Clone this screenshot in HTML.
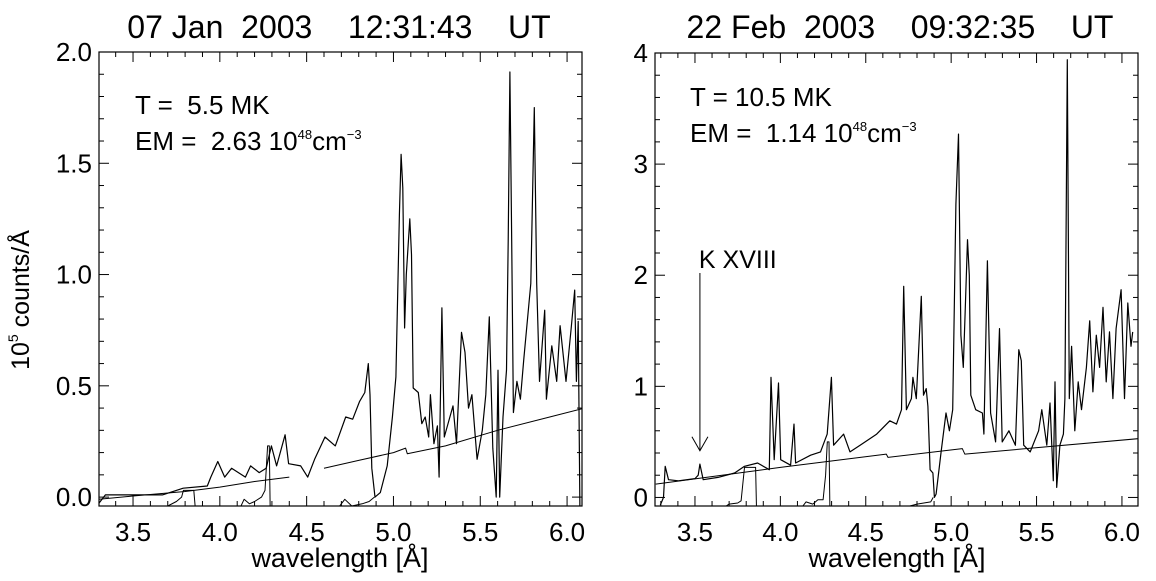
<!DOCTYPE html>
<html><head><meta charset="utf-8">
<style>
body{margin:0;background:#fff;width:1156px;height:581px;overflow:hidden}
svg{display:block}
text{font-family:"Liberation Sans",sans-serif;fill:#000}
</style></head>
<body>
<svg id="chart" width="1156" height="581" viewBox="0 0 1156 581" xmlns="http://www.w3.org/2000/svg">
<defs>
<clipPath id="clipL"><rect x="99" y="52" width="483" height="454"/></clipPath>
<clipPath id="clipR"><rect x="655" y="53" width="483" height="453"/></clipPath>
</defs>
<text x="339" y="38" font-size="32" text-anchor="middle" xml:space="preserve">07 Jan  2003    12:31:43    UT</text>
<text x="900" y="38" font-size="32" text-anchor="middle" xml:space="preserve">22 Feb  2003    09:32:35    UT</text>
<text transform="translate(29,300) rotate(-90)" font-size="25" text-anchor="middle">10<tspan font-size="14" dy="-11">5</tspan><tspan dy="11"> counts/Å</tspan></text>
<text x="340" y="567" font-size="27" text-anchor="middle">wavelength [Å]</text>
<text x="897" y="567" font-size="27" text-anchor="middle">wavelength [Å]</text>
<text x="135" y="114" font-size="26" xml:space="preserve">T =  5.5 MK</text>
<text x="135" y="150" font-size="26" xml:space="preserve">EM =  2.63 10<tspan font-size="13" dy="-11">48</tspan><tspan dy="11">cm</tspan><tspan font-size="13" dy="-11">−3</tspan></text>
<text x="690" y="106" font-size="26" xml:space="preserve">T = 10.5 MK</text>
<text x="690" y="142" font-size="26" xml:space="preserve">EM =  1.14 10<tspan font-size="13" dy="-11">48</tspan><tspan dy="11">cm</tspan><tspan font-size="13" dy="-11">−3</tspan></text>
<g id="gL"></g><g id="gR"></g>
</svg>
<script>
// ---- Left panel data (07 Jan 2003) ----
const leftObsW = [3.301,3.341,3.50,3.669,3.789,3.928,3.948,3.988,4.028,4.068,4.147,4.177,4.227,4.267,4.297,4.327,4.376,4.396,4.466,4.506,4.546,4.606,4.665,4.725,4.765,4.805,4.835,4.855,4.865,4.875,4.894,4.924,4.964,4.994,5.014,5.034,5.044,5.054,5.064,5.074,5.094,5.104,5.114,5.143,5.163,5.183,5.203,5.213,5.233,5.253,5.263,5.279,5.293,5.343,5.363,5.392,5.412,5.432,5.452,5.482,5.512,5.532,5.552,5.572,5.592,5.602,5.612,5.631,5.651,5.661,5.671,5.681,5.691,5.711,5.731,5.751,5.791,5.811,5.825,5.841,5.871,5.881,5.912,5.940,5.960,5.994,6.024,6.044,6.054,6.064,6.074];
const leftObsV = [-0.03,0.01,0.01,0.01,0.04,0.05,0.09,0.16,0.09,0.13,0.09,0.14,0.11,0.13,0.23,0.14,0.28,0.15,0.14,0.09,0.17,0.27,0.23,0.36,0.35,0.43,0.47,0.60,0.46,0.13,0.0,0.02,0.14,0.36,0.54,1.27,1.54,1.39,0.76,1.0,1.25,1.09,0.49,0.47,0.33,0.36,0.27,0.46,0.24,0.32,0.09,0.85,0.27,0.41,0.24,0.74,0.65,0.40,0.46,0.17,0.30,0.46,0.81,0.22,0.0,0.57,0.0,0.36,0.57,1.15,1.91,1.15,0.38,0.52,0.44,0.62,0.96,1.75,0.96,0.52,0.84,0.44,0.68,0.52,0.77,0.52,0.76,0.93,0.52,0.79,-0.05];
const leftBg1W = [3.30,3.5,3.8,4.0,4.2,4.4];
const leftBg1V = [-0.01,0.005,0.025,0.045,0.07,0.09];
const leftBg2W = [4.6,4.8,5.0,5.07,5.08,5.3,5.6,5.9,6.1];
const leftBg2V = [0.13,0.165,0.2,0.22,0.195,0.23,0.30,0.36,0.40];
const leftLowW = [3.62,3.70,3.75,3.78,3.79,3.85,3.86,4.11,4.14,4.17,4.20,4.24,4.26,4.275,4.285,4.29,4.67,4.72,4.76,4.82,4.86,4.89];
const leftLowV = [-0.06,-0.04,-0.02,0.0,0.03,0.03,-0.06,-0.06,-0.01,-0.03,-0.02,0.0,0.03,0.23,0.23,-0.06,-0.06,-0.01,-0.04,-0.03,-0.02,0.0];
const leftXTicks = ["3.5","4.0","4.5","5.0","5.5","6.0"];
const leftYTicks = ["0.0","0.5","1.0","1.5","2.0"];

// ---- Right panel data (22 Feb 2003) ----
const rightObsW = [3.297,3.316,3.326,3.345,3.403,3.50,3.519,3.529,3.548,3.635,3.732,3.79,3.867,3.935,3.945,3.964,3.989,4.002,4.060,4.08,4.089,4.177,4.235,4.274,4.299,4.312,4.37,4.408,4.467,4.564,4.641,4.680,4.709,4.722,4.738,4.767,4.776,4.796,4.825,4.838,4.854,4.864,4.877,4.893,4.902,4.912,4.941,4.97,4.99,5.009,5.028,5.043,5.057,5.071,5.082,5.096,5.106,5.115,5.144,5.183,5.192,5.212,5.231,5.260,5.283,5.299,5.338,5.376,5.396,5.411,5.425,5.463,5.512,5.531,5.560,5.579,5.598,5.608,5.618,5.637,5.657,5.666,5.680,5.692,5.705,5.724,5.744,5.763,5.792,5.811,5.83,5.85,5.869,5.889,5.908,5.927,5.947,5.966,5.995,6.015,6.034,6.053,6.063];
const rightObsV = [-0.07,0.0,0.28,0.16,0.15,0.17,0.20,0.30,0.16,0.18,0.22,0.28,0.31,0.25,1.08,0.34,1.03,0.34,0.29,0.66,0.31,0.38,0.41,0.57,1.08,0.47,0.57,0.41,0.47,0.57,0.69,0.66,0.79,1.90,0.79,0.89,1.08,0.89,1.81,0.92,0.98,0.82,0.25,0.22,0.0,0.03,0.41,0.76,0.60,0.79,2.64,3.27,1.46,1.17,1.68,2.32,2.0,0.92,0.79,0.76,0.57,2.13,0.76,0.50,1.52,0.50,0.60,0.47,1.33,1.23,0.47,0.41,0.60,0.79,0.47,0.85,0.15,1.04,0.09,0.47,0.57,0.89,3.94,0.89,1.36,0.60,1.04,0.79,1.17,1.59,0.95,1.46,1.17,1.71,1.04,1.49,0.89,1.52,1.87,0.89,1.75,1.36,1.49];
const rightBgW = [3.27,4.0,4.62,4.63,5.065,5.08,6.10];
const rightBgV = [0.12,0.27,0.39,0.36,0.44,0.39,0.53];
const rightLowW = [3.66,3.70,3.75,3.77,3.78,3.79,3.855,3.86,4.12,4.15,4.19,4.22,4.25,4.265,4.275,4.285,4.29,4.70,4.80,4.88,4.895];
const rightLowV = [-0.1,-0.06,-0.05,-0.03,0.12,0.27,0.27,-0.1,-0.1,-0.04,-0.06,-0.02,-0.02,0.2,0.5,0.5,-0.1,-0.1,-0.06,-0.04,0.0];
const rightXTicks = ["3.5","4.0","4.5","5.0","5.5","6.0"];
const rightYTicks = ["0","1","2","3","4"];
const arrowW = 3.529, arrowTopV = 2.02, arrowTipV = 0.42;

const NS = "http://www.w3.org/2000/svg";
function mk(tag, attrs, parent){const e=document.createElementNS(NS,tag);for(const k in attrs)e.setAttribute(k,attrs[k]);parent.appendChild(e);return e;}

function panel(g, box, wmin, wmax, vmin, vmax, clip, xt, yt, yMinor, series){
  const xs = w => box.l + (w-wmin)/(wmax-wmin)*(box.r-box.l);
  const ys = v => box.b - (v-vmin)/(vmax-vmin)*(box.b-box.t);
  const frame = mk("rect",{x:box.l,y:box.t,width:box.r-box.l,height:box.b-box.t,fill:"none",stroke:"#000","stroke-width":1.2},g);
  
  
  for(let i=0;i*0.1+3.3<=wmax+1e-9;i++){
    const w=3.3+i*0.1; if(w<wmin) continue;
    const major=Math.abs(w*2-Math.round(w*2))<1e-6; const L=major?10:5; const x=xs(w);
    const t1=mk("line",{x1:x,y1:box.b,x2:x,y2:box.b-L,stroke:"#000","stroke-width":1},g);
    
    
    const t2=mk("line",{x1:x,y1:box.t,x2:x,y2:box.t+L,stroke:"#000","stroke-width":1},g);
    
    
  }
  xt.forEach(s=>{
    const tx=mk("text",{x:xs(parseFloat(s)),y:box.b+35,"font-size":26,"text-anchor":"middle"},g);
    tx.textContent=s;
    
    
  });
  for(let v=0;v<=vmax+1e-9;v+=yMinor){
    const vv=Math.round(v*1000)/1000;
    const major=yt.some(s=>Math.abs(parseFloat(s)-vv)<1e-6); const L=major?10:5; const y=ys(vv);
    const t1=mk("line",{x1:box.l,y1:y,x2:box.l+L,y2:y,stroke:"#000","stroke-width":1},g);
    
    
    const t2=mk("line",{x1:box.r,y1:y,x2:box.r-L,y2:y,stroke:"#000","stroke-width":1},g);
    
    
  }
  yt.forEach(s=>{
    const ty=mk("text",{x:box.l-7,y:ys(parseFloat(s))+9,"font-size":26,"text-anchor":"end"},g);
    ty.textContent=s;
    
    
  });
  series.forEach(([W,V,name,wid])=>{
    const pts=W.map((w,i)=>xs(w).toFixed(1)+","+ys(V[i]).toFixed(1)).join(" ");
    const pl=mk("polyline",{points:pts,fill:"none",stroke:"#000","stroke-width":wid,"clip-path":"url(#"+clip+")","stroke-linejoin":"round"},g);
    
    
  });
  return {xs,ys};
}

const gL=document.getElementById("gL"), gR=document.getElementById("gR");
panel(gL,{l:99,r:582,t:52,b:506},3.304,6.086,-0.04,2.0,"clipL",leftXTicks,leftYTicks,0.1,[
  [leftObsW,leftObsV,"observed-spectrum-line",1.2],
  [leftBg1W,leftBg1V,"continuum-model-line-1",1],
  [leftBg2W,leftBg2V,"continuum-model-line-2",1],
  [leftLowW,leftLowV,"second-channel-line",1]
]);
const R=panel(gR,{l:655,r:1138,t:53,b:506},3.266,6.094,-0.077,4.0,"clipR",rightXTicks,rightYTicks,0.2,[
  [rightObsW,rightObsV,"observed-spectrum-line",1.2],
  [rightBgW,rightBgV,"continuum-model-line",1],
  [rightLowW,rightLowV,"second-channel-line",1]
]);
const ax=R.xs(arrowW), ay1=R.ys(arrowTopV), ay2=R.ys(arrowTipV);
const al=mk("line",{x1:ax,y1:ay1,x2:ax,y2:ay2,stroke:"#000","stroke-width":1},gR);


const ah=mk("polyline",{points:`${ax-8},${ay2-14} ${ax},${ay2} ${ax+8},${ay2-14}`,fill:"none",stroke:"#000","stroke-width":1},gR);


const kl=mk("text",{x:ax-1,y:ay1-5,"font-size":25},gR);
kl.textContent="K XVIII";


</script>
</body></html>
